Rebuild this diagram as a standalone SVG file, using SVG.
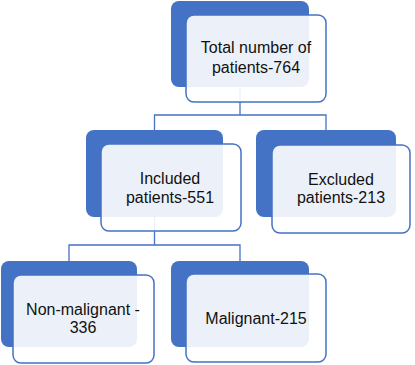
<svg xmlns="http://www.w3.org/2000/svg" width="415" height="365" viewBox="0 0 415 365">
<style>
.back{fill:#4472C4;}
.front{fill:#FFFFFF;fill-opacity:0.9;stroke:#4472C4;stroke-width:1.5;}
.lbl{font-family:"Liberation Sans",Arial,sans-serif;font-size:16px;fill:#111;text-anchor:middle;}
.conn{fill:none;stroke:#4472C4;stroke-width:1.3;}
</style>
<rect width="415" height="365" fill="#FFFFFF"/>
<g id="connectors">
<polyline class="conn" points="240,87 240,115"/>
<polyline class="conn" points="154.5,130 154.5,115 326,115 326,130"/>
<polyline class="conn" points="154.5,217 154.5,245"/>
<polyline class="conn" points="69,261 69,245 240,245 240,261"/>
</g>
<g id="node-total">
<rect class="back" x="171" y="1" width="138" height="86" rx="8"/>
<rect class="front" x="186" y="15" width="140" height="87" rx="8"/>
<text class="lbl" x="256" y="53">Total number of</text>
<text class="lbl" x="256" y="73">patients-764</text>
</g>
<g id="node-included">
<rect class="back" x="86" y="130" width="137" height="87" rx="8"/>
<rect class="front" x="101" y="144" width="140" height="87" rx="8"/>
<text class="lbl" x="170" y="184">Included</text>
<text class="lbl" x="170" y="203">patients-551</text>
</g>
<g id="node-excluded">
<rect class="back" x="256" y="130" width="140" height="87" rx="8"/>
<rect class="front" x="272" y="145" width="138" height="88" rx="8"/>
<text class="lbl" x="341" y="185">Excluded</text>
<text class="lbl" x="341" y="203">patients-213</text>
</g>
<g id="node-nonmalignant">
<rect class="back" x="1" y="261" width="136" height="86" rx="8"/>
<rect class="front" x="13" y="275" width="141" height="88" rx="8"/>
<text class="lbl" x="83" y="315">Non-malignant -</text>
<text class="lbl" x="83" y="333">336</text>
</g>
<g id="node-malignant">
<rect class="back" x="171" y="261" width="138" height="86" rx="8"/>
<rect class="front" x="186" y="274" width="140" height="88" rx="8"/>
<text class="lbl" x="256" y="324">Malignant-215</text>
</g>
</svg>
